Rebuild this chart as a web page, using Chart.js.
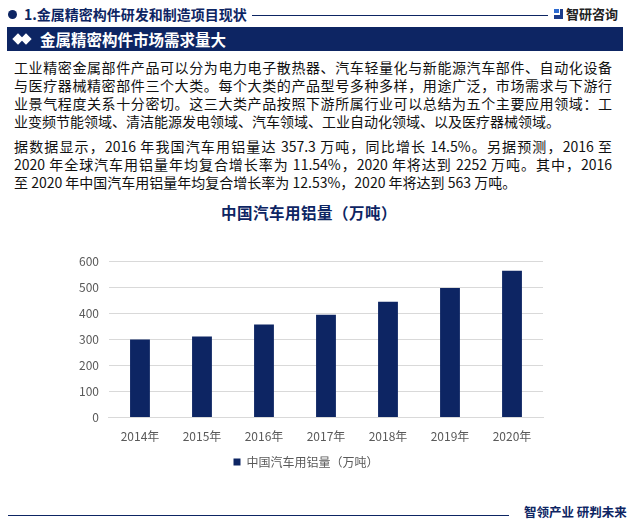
<!DOCTYPE html>
<html>
<head>
<meta charset="utf-8">
<script src="https://cdn.jsdelivr.net/npm/chart.js"></script>
<style>
  body { margin: 0; width: 630px; height: 521px; background: #fff; position: relative; overflow: hidden;
    font-family: "Noto Sans CJK SC", "Noto Sans", sans-serif; }
  .abs { position: absolute; }
  .dot { left: 8px; top: 10px; width: 9px; height: 9px; border-radius: 50%; background: #0d2563; }
  .head { left: 24px; top: 4px; font-size: 14px; font-weight: bold; color: #0d2563; line-height: 20px; }
  .hline { left: 252px; top: 15px; width: 296px; height: 1px; background: #0d2563; }
  .logo { left: 566px; top: 4px; font-size: 13px; font-weight: bold; color: #222; line-height: 20px; }
  .logoicon { left: 554px; top: 9px; width: 9px; height: 10px; }
  .band { left: 7px; top: 27px; width: 616px; height: 24px; background: #0d2563; }
  .bandtxt { left: 40px; top: 27px; font-size: 15.5px; font-weight: bold; color: #fff; line-height: 24px; }
  .dia { width: 8px; height: 8px; background: #fff; transform: rotate(45deg); top: 35px; }
  .para { left: 14px; width: 598px; font-size: 14px; color: #111; line-height: 18px; }
  .para div { text-align: justify; text-align-last: justify; white-space: nowrap; }
  .para div.last { text-align-last: left; }
  .ctitle { left: 146px; width: 326px; top: 201px; text-align: center; font-size: 15.5px; font-weight: bold; color: #0d2563; letter-spacing: 0.5px; }
  .foot { left: 8px; top: 515px; width: 501px; height: 1px; background: #0d2563; }
  .foottxt { left: 524px; top: 503px; font-size: 12.5px; font-weight: bold; color: #0d2563; line-height: 18px; }
  #wrap { left: 69px; top: 244px; width: 491px; height: 241px; }
</style>
</head>
<body>
<div class="abs dot"></div>
<div class="abs head">1.金属精密构件研发和制造项目现状</div>
<div class="abs hline"></div>
<svg class="abs logoicon" viewBox="0 0 9 10"><rect x="0" y="0" width="5" height="4" fill="#2d6bd1"/><rect x="0" y="6" width="9" height="4" fill="#1c3c8c"/><rect x="6" y="0" width="3" height="6" fill="#1c3c8c"/></svg>
<div class="abs logo">智研咨询</div>
<div class="abs band"></div>
<div class="abs dia" style="left:14px"></div>
<div class="abs dia" style="left:22px"></div>
<div class="abs bandtxt">金属精密构件市场需求量大</div>

<div class="abs para" style="top:58px">
  <div>工业精密金属部件产品可以分为电力电子散热器、汽车轻量化与新能源汽车部件、自动化设备</div>
  <div>与医疗器械精密部件三个大类。每个大类的产品型号多种多样，用途广泛，市场需求与下游行</div>
  <div>业景气程度关系十分密切。这三大类产品按照下游所属行业可以总结为五个主要应用领域：工</div>
  <div class="last">业变频节能领域、清洁能源发电领域、汽车领域、工业自动化领域、以及医疗器械领域。</div>
</div>
<div class="abs para" style="top:137px">
  <div>据数据显示，2016 年我国汽车用铝量达 357.3 万吨，同比增长 14.5%。另据预测，2016 至</div>
  <div>2020 年全球汽车用铝量年均复合增长率为 11.54%，2020 年将达到 2252 万吨。其中，2016</div>
  <div class="last">至 2020 年中国汽车用铝量年均复合增长率为 12.53%，2020 年将达到 563 万吨。</div>
</div>

<div class="abs ctitle">中国汽车用铝量（万吨）</div>
<div class="abs" id="wrap"><canvas id="c"></canvas></div>

<div class="abs foot"></div>
<div class="abs foottxt">智领产业 研判未来</div>

<script>
const years = ['2014年', '2015年', '2016年', '2017年', '2018年', '2019年', '2020年'];
const aluminium = [300, 311, 357, 395, 444, 497, 563];
const seriesName = '中国汽车用铝量（万吨）';
const yMax = 600;
const yStep = 100;

new Chart(document.getElementById('c'), {
  type: 'bar',
  data: {
    labels: years,
    datasets: [{
      label: seriesName,
      data: aluminium,
      backgroundColor: '#0d2563',
      barPercentage: 0.32,
      categoryPercentage: 1
    }]
  },
  options: {
    responsive: true,
    maintainAspectRatio: false,
    animation: false,
    layout: { padding: { top: 0, right: 17, bottom: 7, left: 0 } },
    plugins: {
      legend: {
        position: 'bottom',
        labels: {
          boxWidth: 7, boxHeight: 7, padding: 8,
          color: '#595959',
          font: { family: 'Noto Sans CJK SC', size: 12 }
        }
      },
      tooltip: { enabled: false }
    },
    scales: {
      x: {
        grid: { display: false },
        border: { color: '#d9d9d9' },
        ticks: { color: '#595959', padding: 4, font: { family: 'Noto Sans CJK SC', size: 12 } }
      },
      y: {
        min: 0, max: yMax,
        ticks: { stepSize: yStep, color: '#595959', padding: 10, font: { family: 'Noto Sans CJK SC', size: 12 } },
        grid: { color: '#d9d9d9', drawTicks: false },
        border: { display: false }
      }
    }
  }
});
</script>
</body>
</html>
